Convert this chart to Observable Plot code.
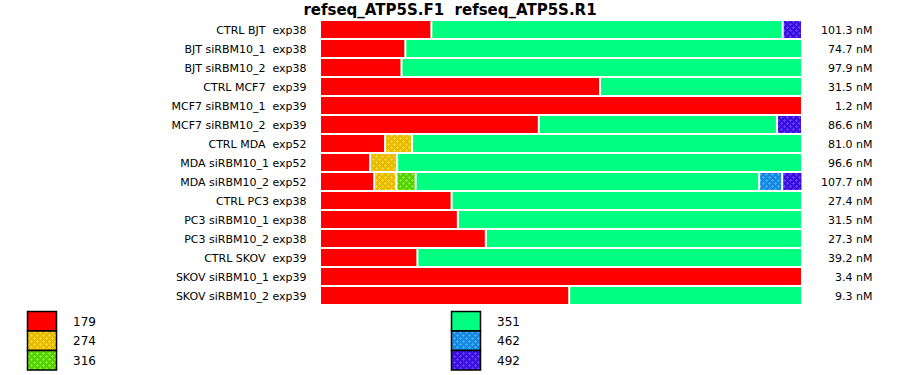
<!DOCTYPE html>
<html>
<head>
<meta charset="utf-8">
<script src="https://cdn.jsdelivr.net/npm/d3@7"></script>
<script src="https://cdn.jsdelivr.net/npm/@observablehq/plot@0.6"></script>
<style>
  html, body { margin: 0; padding: 0; background: #fff; }
  body { width: 900px; height: 375px; position: relative; overflow: hidden; font-family: "DejaVu Sans", Verdana, sans-serif; }
  #title { position: absolute; left: 0; top: 0; width: 900px; height: 20px; line-height: 20px; text-align: center; font-weight: bold; font-size: 15px; white-space: pre; color: #000; padding-left: 0px; }
  #chart { position: absolute; left: 0; top: 20px; }
  #legend { position: absolute; left: 0; top: 310px; }
  svg text { white-space: pre; }
</style>
</head>
<body>
<div id="title">refseq_ATP5S.F1  refseq_ATP5S.R1</div>
<svg width="0" height="0" style="position:absolute">
  <defs id="patdefs"></defs>
</svg>
<div id="chart"></div>
<div id="legend"></div>
<script>
// ---- data ----
const labels = [
  "CTRL BJT  exp38",
  "BJT siRBM10_1  exp38",
  "BJT siRBM10_2  exp38",
  "CTRL MCF7  exp39",
  "MCF7 siRBM10_1  exp39",
  "MCF7 siRBM10_2  exp39",
  "CTRL MDA  exp52",
  "MDA siRBM10_1 exp52",
  "MDA siRBM10_2 exp52",
  "CTRL PC3 exp38",
  "PC3 siRBM10_1 exp38",
  "PC3 siRBM10_2 exp38",
  "CTRL SKOV  exp39",
  "SKOV siRBM10_1 exp39",
  "SKOV siRBM10_2 exp39"
];
const concentrations = [101.3, 74.7, 97.9, 31.5, 1.2, 86.6, 81.0, 96.6, 107.7, 27.4, 31.5, 27.3, 39.2, 3.4, 9.3];
const sizes = ["179", "274", "316", "351", "462", "492"];
// percent share of each fragment size per row
const share179 = [23.1, 17.7, 16.9, 58.1, 100, 45.4, 13.5, 10.4, 11.25, 27.3, 28.6, 34.4, 20.2, 100, 51.7];
const share274 = [0, 0, 0, 0, 0, 0, 5.6, 5.6, 4.6, 0, 0, 0, 0, 0, 0];
const share316 = [0, 0, 0, 0, 0, 0, 0, 0, 4.0, 0, 0, 0, 0, 0, 0];
const share351 = [72.9, 82.3, 83.1, 41.9, 0, 49.4, 80.9, 84.0, 71.25, 72.7, 71.4, 65.6, 79.8, 0, 48.3];
const share462 = [0, 0, 0, 0, 0, 0, 0, 0, 4.8, 0, 0, 0, 0, 0, 0];
const share492 = [4.0, 0, 0, 0, 0, 5.2, 0, 0, 4.2, 0, 0, 0, 0, 0, 0];

// ---- styles ----
const solid = {"179": "#ff0000", "351": "#00ff80"};
const patterns = {
  "274": ["#e6bb00", "#f6d535"],
  "316": ["#55d000", "#80ee40"],
  "462": ["#1488e0", "#45aaf5"],
  "492": ["#3a10e0", "#603cf5"]
};
const defs = d3.select("#patdefs");
for (const [k, [base, dot]] of Object.entries(patterns)) {
  const p = defs.append("pattern").attr("id", "p" + k).attr("patternUnits", "userSpaceOnUse")
    .attr("width", 6).attr("height", 6);
  p.append("rect").attr("width", 6).attr("height", 6).attr("fill", base);
  for (const [cx, cy] of [[1, 1], [4, 4]]) {
    p.append("rect").attr("x", cx - 1).attr("y", cy).attr("width", 3).attr("height", 1).attr("fill", dot);
    p.append("rect").attr("x", cx).attr("y", cy - 1).attr("width", 1).attr("height", 3).attr("fill", dot);
  }
}
const fillOf = s => solid[s] ?? `url(#p${s})`;

// ---- table ----
const seriesShares = {"179": share179, "274": share274, "316": share316, "351": share351, "462": share462, "492": share492};
const table = [];
labels.forEach((label, i) => {
  for (const s of sizes) {
    const v = seriesShares[s][i];
    if (v > 0) table.push({label, size: s, share: v});
  }
});
const rows = labels.map((label, i) => ({label, conc: concentrations[i]}));

const chart = Plot.plot({
  width: 900,
  height: 290,
  marginLeft: 320,
  marginRight: 98,
  marginTop: 0,
  marginBottom: 5,
  style: {fontFamily: "'DejaVu Sans', Verdana, sans-serif", fontSize: "11px", color: "#000", background: "#fff"},
  x: {domain: [0, 100], axis: null},
  y: {domain: labels, padding: 0, label: null, tickSize: 0, tickPadding: 14},
  color: {type: "identity"},
  marks: [
    Plot.barX(table, Plot.stackX({
      x: "share", y: "label", z: "size",
      fill: d => fillOf(d.size),
      insetLeft: 1, insetRight: 1, insetTop: 1, insetBottom: 1
    })),
    Plot.text(rows, {
      y: "label", frameAnchor: "right", dx: 70, textAnchor: "end",
      text: d => d.conc.toFixed(1) + " nM", fill: "#000"
    })
  ]
});
document.getElementById("chart").appendChild(chart);

// ---- legend ----
const lg = d3.select("#legend").append("svg").attr("width", 900).attr("height", 65)
  .style("font-family", "'DejaVu Sans', Verdana, sans-serif").style("font-size", "12px");
sizes.forEach((s, i) => {
  const col = Math.floor(i / 3), row = i % 3;
  const x = col === 0 ? 27.5 : 451.5;
  const y = 1.5 + row * 19.5;
  lg.append("rect").attr("x", x).attr("y", y).attr("width", 29).attr("height", 19.5)
    .attr("fill", fillOf(s)).attr("stroke", "#000").attr("stroke-width", 1.5);
  lg.append("text").attr("x", x + 45.5).attr("y", y + 10).attr("dy", "0.35em").text(s).attr("fill", "#000");
});
</script>
</body>
</html>
